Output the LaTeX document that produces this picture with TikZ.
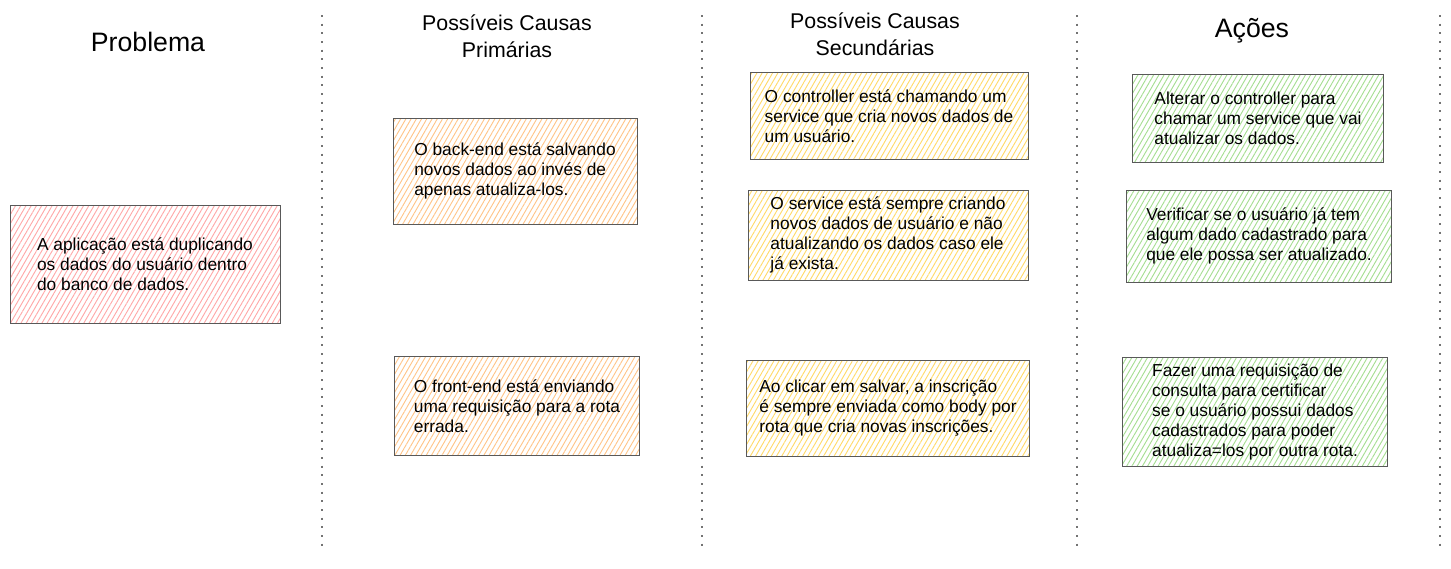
\documentclass[tikz,border=0pt]{standalone}
\usepackage{fontspec}
\setmainfont{Liberation Sans}
\usepackage{xcolor}
\usetikzlibrary{patterns.meta}
\definecolor{hachpink}{HTML}{FFA8A8}
\definecolor{hachorange}{HTML}{FFC589}
\definecolor{hachyellow}{HTML}{FFDA6A}
\definecolor{hachgreen}{HTML}{A6DE92}
\newlength\unitpx
\setlength\unitpx{0.75pt}

\begin{document}
\begin{tikzpicture}[x=0.75pt,y=-0.75pt,
                    every node/.style={font=\fontsize{13}{15}\selectfont},
                    hachure/.style={pattern={Lines[angle=60,distance=3.4pt,line width=0.7pt]},
                                    pattern color=#1}]
  \tikzstyle{card}=[draw=black!65,line width=0.75pt,align=left,inner sep=0pt]
  \tikzstyle{heading}=[align=center,font=\fontsize{16}{20}\selectfont]
  \tikzstyle{bigheading}=[font=\fontsize{20}{24}\selectfont]
  \tikzstyle{lane}=[black!55,line width=1pt,dash pattern=on 1.5pt off 5pt]

  \useasboundingbox (0,0) rectangle (1451,568);

  % column separators
  \foreach \x in {322,702,1077,1440}
    \draw[lane] (\x,15) -- (\x,548);

  % headings
  \node[bigheading] (problema)   at (148,42)   {Problema};
  \node[heading]    (primarias)  at (507,36)   {Possíveis Causas\\Primárias};
  \node[heading]    (secundarias) at (875,34)  {Possíveis Causas\\Secundárias};
  \node[bigheading] (acoes)      at (1252,31)  {Ações};

  % problema
  \node[card,hachure=hachpink,minimum width=270\unitpx,minimum height=118\unitpx]
       (prob) at (145,264) {A aplicação está duplicando\\os dados do usuário dentro\\do banco de dados.};

  % causas primarias
  \node[card,hachure=hachorange,minimum width=244\unitpx,minimum height=106\unitpx]
       (prim1) at (515,171) {O back-end está salvando\\novos dados ao invés de\\apenas atualiza-los.};
  \node[card,hachure=hachorange,minimum width=245\unitpx,minimum height=99\unitpx]
       (prim2) at (517,406) {O front-end está enviando\\uma requisição para a rota\\errada.};

  % causas secundarias
  \node[card,hachure=hachyellow,minimum width=278\unitpx,minimum height=87\unitpx]
       (sec1) at (889,116) {O controller está chamando um\\service que cria novos dados de\\um usuário.};
  \node[card,hachure=hachyellow,minimum width=280\unitpx,minimum height=90\unitpx]
       (sec2) at (888,235) {O service está sempre criando\\novos dados de usuário e não\\atualizando os dados caso ele\\já exista.};
  \node[card,hachure=hachyellow,minimum width=283\unitpx,minimum height=96\unitpx]
       (sec3) at (888,408) {Ao clicar em salvar, a inscrição\\é sempre enviada como body por\\rota que cria novas inscrições.};

  % acoes
  \node[card,hachure=hachgreen,minimum width=251\unitpx,minimum height=88\unitpx]
       (act1) at (1258,118) {Alterar o controller para\\chamar um service que vai\\atualizar os dados.};
  \node[card,hachure=hachgreen,minimum width=265\unitpx,minimum height=92\unitpx]
       (act2) at (1259,236) {Verificar se o usuário já tem\\algum dado cadastrado para\\que ele possa ser atualizado.};
  \node[card,hachure=hachgreen,minimum width=265\unitpx,minimum height=109\unitpx]
       (act3) at (1255,412) {Fazer uma requisição de\\consulta para certificar\\se o usuário possui dados\\cadastrados para poder\\atualiza=los por outra rota.};
\end{tikzpicture}
\end{document}
